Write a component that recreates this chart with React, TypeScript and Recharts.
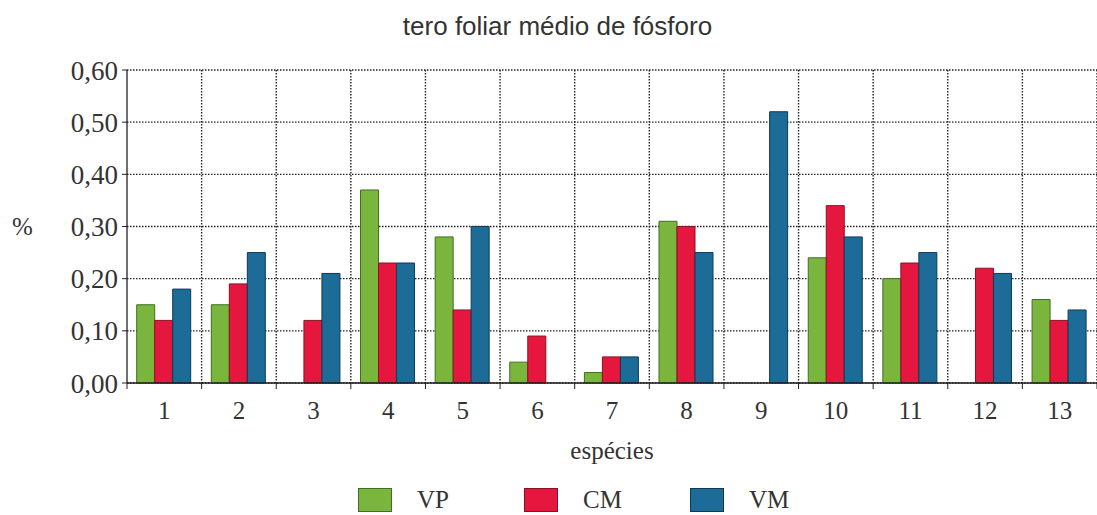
import React from 'react'
import { BarChart, Bar, XAxis, YAxis, CartesianGrid, Label } from 'recharts'

const especies = ['1', '2', '3', '4', '5', '6', '7', '8', '9', '10', '11', '12', '13']
const vp = [0.15, 0.15, 0, 0.37, 0.28, 0.04, 0.02, 0.31, 0, 0.24, 0.2, 0, 0.16]
const cm = [0.12, 0.19, 0.12, 0.23, 0.14, 0.09, 0.05, 0.3, 0, 0.34, 0.23, 0.22, 0.12]
const vm = [0.18, 0.25, 0.21, 0.23, 0.3, 0, 0.05, 0.25, 0.52, 0.28, 0.25, 0.21, 0.14]
const yTicks = [0, 0.1, 0.2, 0.3, 0.4, 0.5, 0.6]

const series = [
  { key: 'VP', fill: '#7ab63e', stroke: '#3f6e22' },
  { key: 'CM', fill: '#e6173f', stroke: '#8c1025' },
  { key: 'VM', fill: '#1c6c97', stroke: '#0e3a55' },
]

const data = especies.map((e, i) => ({ especie: e, VP: vp[i], CM: cm[i], VM: vm[i] }))

const W = 1097
const H = 515
const MARGIN = { top: 70, right: 0, bottom: 52, left: 7 }
const Y_WIDTH = 120
const PLOT_W = W - MARGIN.left - MARGIN.right - Y_WIDTH
const BAND = PLOT_W / especies.length

const serif = '"Liberation Serif", "Times New Roman", serif'

const XTick = (props: any) => {
  const { x, y, payload, index } = props
  const left = x - BAND / 2
  const top = y - 10
  return (
    <g>
      <line x1={left} x2={left} y1={top} y2={top + 6} stroke="#222" />
      {index === especies.length - 1 && (
        <line x1={left + BAND} x2={left + BAND} y1={top} y2={top + 6} stroke="#222" />
      )}
      <text x={x} y={y + 8} dy="0.71em" textAnchor="middle" fontFamily={serif} fontSize={25} fill="#333">
        {payload.value}
      </text>
    </g>
  )
}

// legend kept outside the chart so it doesn't eat into the plot height
const LegendBox = () => (
  <div style={{ position: 'absolute', top: 486, left: 358, display: 'flex' }}>
    {series.map(s => (
      <div key={s.key} style={{ display: 'flex', alignItems: 'center', width: 166 }}>
        <span style={{ display: 'inline-block', width: 34, height: 24, background: s.fill, border: `1px solid ${s.stroke}`, boxSizing: 'border-box' }} />
        <span style={{ marginLeft: 25, fontFamily: serif, fontSize: 25, color: '#333', lineHeight: '28px' }}>{s.key}</span>
      </div>
    ))}
  </div>
)

export default function App() {
  return (
    <div style={{ position: 'absolute', left: 0, top: 0, width: W, height: H, background: '#fff' }}>
      <div style={{ position: 'absolute', top: 11, left: 0, width: W, paddingLeft: 18, boxSizing: 'border-box', textAlign: 'center', fontFamily: '"Liberation Sans", Arial, sans-serif', fontSize: 26, color: '#333', zIndex: 2 }}>
        tero foliar médio de fósforo
      </div>
      <BarChart width={W} height={H} data={data} margin={MARGIN} barCategoryGap="13%" barGap={0}>
        <CartesianGrid
          stroke="#222"
          strokeDasharray="1.5 1.5"
          strokeWidth={1.4}
          verticalCoordinatesGenerator={({ offset }: any) =>
            especies.map((_, i) => offset.left + ((i + 1) * offset.width) / especies.length)
          }
        />
        <XAxis
          dataKey="especie"
          height={80}
          axisLine={{ stroke: '#222', strokeWidth: 1.3 }}
          tickLine={false}
          tickSize={6}
          tickMargin={4}
          tick={<XTick />}
          interval={0}
        >
          <Label value="espécies" position="insideBottom" offset={4} fontFamily={serif} fontSize={25} fill="#333" />
        </XAxis>
        <YAxis
          width={Y_WIDTH}
          domain={[0, 0.6]}
          ticks={yTicks}
          tickFormatter={(v: number) => v.toFixed(2).replace('.', ',')}
          axisLine={{ stroke: '#222', strokeWidth: 1.3 }}
          tickLine={{ stroke: '#222' }}
          tickSize={5}
          tickMargin={4}
          tick={{ fontFamily: serif, fontSize: 27, fill: '#333' }}
        >
          <Label value="%" position="insideLeft" offset={5} fontFamily={serif} fontSize={25} fill="#333" />
        </YAxis>
        {series.map(s => (
          <Bar key={s.key} dataKey={s.key} fill={s.fill} stroke={s.stroke} strokeWidth={1} isAnimationActive={false} />
        ))}
      </BarChart>
      <LegendBox />
    </div>
  )
}
